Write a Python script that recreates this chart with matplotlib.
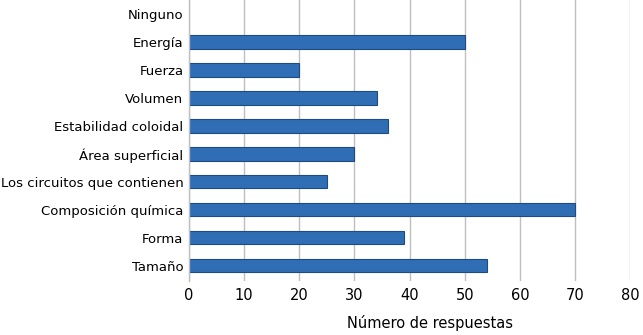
import matplotlib
matplotlib.use('Agg')
import matplotlib.pyplot as plt

categories = ['Tamaño', 'Forma', 'Composición química', 'Los circuitos que contienen',
              'Área superficial', 'Estabilidad coloidal', 'Volumen', 'Fuerza',
              'Energía', 'Ninguno']
values = [54, 39, 70, 25, 30, 36, 34, 20, 50, 0]
x_ticks = [0, 10, 20, 30, 40, 50, 60, 70, 80]

plt.rcParams['font.family'] = 'DejaVu Sans'

fig = plt.figure(figsize=(6.43, 3.35), dpi=100)
fig.patch.set_facecolor('white')
ax = fig.add_axes([0.294, 0.161, 0.686, 0.839])

ypos = list(range(len(categories)))
# no outline on empty bars
edges = ['#1E4A86' if v > 0 else 'none' for v in values]
ax.barh(ypos, values, height=0.48, color='#2F6EB5', edgecolor=edges,
        linewidth=0.8, zorder=3)

ax.set_xlim(0, 80)
ax.set_ylim(-0.55, 9.5)
ax.set_xticks(x_ticks)
ax.set_yticks(ypos)
ax.set_yticklabels(categories, fontsize=9.5)
ax.tick_params(axis='x', labelsize=10.5, length=0, pad=5)
ax.tick_params(axis='y', length=0, pad=4)

ax.grid(axis='x', color='#BFBFBF', linewidth=1.0, zorder=0)
for s in ['top', 'right', 'bottom']:
    ax.spines[s].set_visible(False)
ax.spines['left'].set_color('#BFBFBF')
ax.spines['left'].set_linewidth(1.0)
ax.spines['left'].set_zorder(4)

ax.set_xlabel('Número de respuestas', fontsize=10.5)
ax.xaxis.set_label_coords(0.546, -0.122)

fig.savefig('out.png', dpi=100)
